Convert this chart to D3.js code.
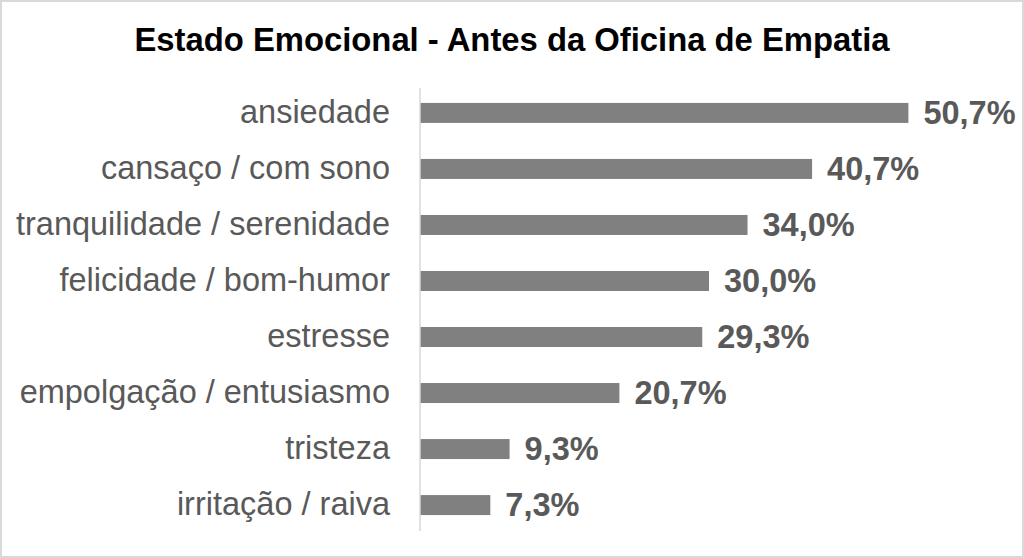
<!DOCTYPE html>
<html>
<head>
<meta charset="utf-8">
<script src="https://cdn.jsdelivr.net/npm/d3@7"></script>
<style>
  body { margin: 0; background: #fff; }
  svg { display: block; }
</style>
</head>
<body>
<div id="chart"></div>
<script>
// data
var categories = [
  "ansiedade",
  "cansaço / com sono",
  "tranquilidade / serenidade",
  "felicidade / bom-humor",
  "estresse",
  "empolgação / entusiasmo",
  "tristeza",
  "irritação / raiva"
];
var values = [50.7, 40.7, 34.0, 30.0, 29.3, 20.7, 9.3, 7.3];
var xMax = 60;

var data = categories.map(function(c, i) { return { cat: c, value: values[i] }; });

var W = 1024, H = 558;
var font = "'Liberation Sans', Arial, sans-serif";

var svg = d3.select("#chart")
  .append("svg")
    .attr("width", W)
    .attr("height", H);

// outer border
svg.append("rect")
  .attr("x", 1).attr("y", 1)
  .attr("width", W - 2).attr("height", H - 2)
  .attr("fill", "#fff")
  .attr("stroke", "#d9d9d9")
  .attr("stroke-width", 2);

// title
svg.append("text")
  .attr("x", 512)
  .attr("y", 51)
  .style("text-anchor", "middle")
  .style("font-family", font)
  .style("font-weight", "bold")
  .style("font-size", "32.8px")
  .style("fill", "#000")
  .text("Estado Emocional - Antes da Oficina de Empatia");

var x = d3.scaleLinear()
  .domain([0, xMax])
  .range([420, 998]);

var y = d3.scaleBand()
  .domain(categories)
  .range([85, 533])
  .paddingInner(0.643)
  .paddingOuter(0.32);

var pt = d3.formatLocale({ decimal: ",", thousands: ".", grouping: [3], currency: ["R$", ""] });
var fmt = pt.format(".1f");

// bars
svg.selectAll("rect.bar")
  .data(data)
  .enter()
  .append("rect")
    .attr("class", "bar")
    .attr("x", x(0))
    .attr("y", function(d) { return y(d.cat); })
    .attr("width", function(d) { return x(d.value) - x(0); })
    .attr("height", y.bandwidth())
    .attr("fill", "#808080");

// y axis (category labels)
var yAxis = svg.append("g")
  .attr("transform", "translate(" + x(0) + ",0)")
  .call(d3.axisLeft(y).tickSize(0).tickPadding(30));
yAxis.select(".domain")
  .attr("d", "M0,88V531")
  .attr("stroke", "#d9d9d9")
  .attr("stroke-width", 1.5);
yAxis.selectAll("text")
  .style("font-family", font)
  .style("font-size", "32.5px")
  .style("fill", "#595959");

// value labels
svg.selectAll("text.val")
  .data(data)
  .enter()
  .append("text")
    .attr("class", "val")
    .attr("x", function(d) { return x(d.value) + 15; })
    .attr("y", function(d) { return y(d.cat) + y.bandwidth() / 2; })
    .attr("dy", "0.35em")
    .style("font-family", font)
    .style("font-weight", "bold")
    .style("font-size", "32.5px")
    .style("fill", "#595959")
    .text(function(d) { return fmt(d.value) + "%"; });
</script>
</body>
</html>
